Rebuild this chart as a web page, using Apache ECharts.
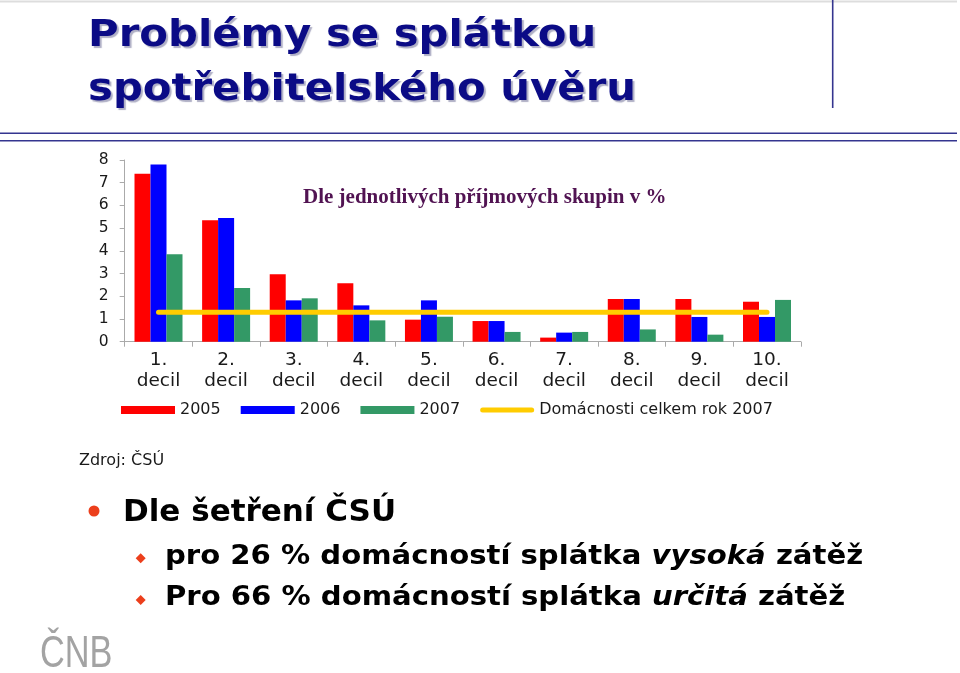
<!DOCTYPE html>
<html>
<head>
<meta charset="utf-8">
<script src="https://cdn.jsdelivr.net/npm/echarts@6/dist/echarts.min.js"></script>
<style>
html,body{margin:0;padding:0;background:#fff;}
#c{width:960px;height:673px;}
</style>
</head>
<body>
<div id="c"></div>
<script>
const categories = ['1.\ndecil','2.\ndecil','3.\ndecil','4.\ndecil','5.\ndecil','6.\ndecil','7.\ndecil','8.\ndecil','9.\ndecil','10.\ndecil'];
const s2005 = [7.4, 5.35, 2.97, 2.57, 0.97, 0.91, 0.18, 1.88, 1.88, 1.76];
const s2006 = [7.8, 5.45, 1.82, 1.6, 1.82, 0.91, 0.4, 1.88, 1.09, 1.09];
const s2007 = [3.85, 2.36, 1.91, 0.94, 1.1, 0.43, 0.43, 0.54, 0.31, 1.84];
const households2007 = [1.3, 1.3, 1.3, 1.3, 1.3, 1.3, 1.3, 1.3, 1.3, 1.3];
const seriesNames = ['2005', '2006', '2007', 'Domácnosti celkem rok 2007'];
const yTicks = [0, 1, 2, 3, 4, 5, 6, 7, 8];

const chart = echarts.init(document.getElementById('c'), null, {renderer: 'canvas'});
const navy = '#0b0b86';
const lineCol = '#34358f';

function txt(x, y, text, font, fill, sx, extra) {
  return {
    type: 'text', x: x, y: y, scaleX: sx || 1, silent: true,
    style: Object.assign({x: 0, y: 0, text: text, font: font, fill: fill, verticalAlign: 'middle', align: 'left'}, extra || {})
  };
}

const option = {
  backgroundColor: '#ffffff',
  animation: false,
  grid: {left: 124.7, right: 159.2, top: 160, bottom: 331.3, containLabel: false},
  legend: {
    left: 121, top: 402, padding: 0, itemWidth: 54, itemHeight: 8, itemGap: 20,
    textStyle: {fontFamily: 'DejaVu Sans', fontSize: 16, color: '#1a1a1a'},
    data: [
      {name: seriesNames[0], icon: 'rect'},
      {name: seriesNames[1], icon: 'rect'},
      {name: seriesNames[2], icon: 'rect'},
      {name: seriesNames[3], icon: 'path://M0,0 M54,8 M2.5,1.5 L51.5,1.5 A2.5,2.5 0 0 1 51.5,6.5 L2.5,6.5 A2.5,2.5 0 0 1 2.5,1.5 Z'}
    ]
  },
  xAxis: {
    type: 'category', data: categories,
    axisLine: {lineStyle: {color: '#aaaaaa', width: 1}},
    axisTick: {show: true, alignWithLabel: false, length: 5, lineStyle: {color: '#aaaaaa'}},
    axisLabel: {fontFamily: 'DejaVu Sans', fontSize: 18.5, color: '#1a1a1a', lineHeight: 21, margin: 8, interval: 0}
  },
  yAxis: {
    type: 'value', min: yTicks[0], max: yTicks[yTicks.length - 1], interval: 1,
    splitLine: {show: false},
    axisLine: {show: true, lineStyle: {color: '#aaaaaa', width: 1}},
    axisTick: {show: true, length: 5, lineStyle: {color: '#aaaaaa'}},
    axisLabel: {fontFamily: 'DejaVu Sans', fontSize: 15.5, color: '#1a1a1a', margin: 16}
  },
  series: [
    {name: seriesNames[0], type: 'bar', data: s2005, barWidth: 16, barGap: '0%', itemStyle: {color: '#ff0000'}},
    {name: seriesNames[1], type: 'bar', data: s2006, barWidth: 16, barGap: '0%', itemStyle: {color: '#0000ff'}},
    {name: seriesNames[2], type: 'bar', data: s2007, barWidth: 16, barGap: '0%', itemStyle: {color: '#339966'}},
    {name: seriesNames[3], type: 'line', data: households2007, symbol: 'none', z: 5,
     lineStyle: {color: '#ffcc00', width: 5, cap: 'round'}, itemStyle: {color: '#ffcc00'}}
  ],
  graphic: [
    {type: 'line', silent: true, shape: {x1: 0, y1: 1.5, x2: 957, y2: 1.5}, style: {stroke: '#dddddd', lineWidth: 2}},
    {type: 'line', silent: true, shape: {x1: 832.7, y1: 0, x2: 832.7, y2: 108}, style: {stroke: lineCol, lineWidth: 1.6}},
    {type: 'line', silent: true, shape: {x1: 0, y1: 133.3, x2: 957, y2: 133.3}, style: {stroke: lineCol, lineWidth: 1.6}},
    {type: 'line', silent: true, shape: {x1: 0, y1: 140.8, x2: 957, y2: 140.8}, style: {stroke: lineCol, lineWidth: 1.6}},
    txt(88, 36.5, 'Problémy se splátkou', 'bold 38px "DejaVu Sans"', navy, 1.1,
        {textShadowColor: 'rgba(110,110,150,0.55)', textShadowOffsetX: 2, textShadowOffsetY: 2, textShadowBlur: 1}),
    txt(88, 90, 'spotřebitelského úvěru', 'bold 38px "DejaVu Sans"', navy, 1.1,
        {textShadowColor: 'rgba(110,110,150,0.55)', textShadowOffsetX: 2, textShadowOffsetY: 2, textShadowBlur: 1}),
    txt(303, 197.5, 'Dle jednotlivých příjmových skupin v %', 'bold 21px "Liberation Serif"', '#511352', 1),
    txt(79, 461, 'Zdroj: ČSÚ', '16px "DejaVu Sans"', '#1a1a1a', 1),
    {type: 'circle', silent: true, shape: {cx: 94, cy: 511, r: 5.5}, style: {fill: '#ec3f1c'}},
    txt(123, 512.5, 'Dle šetření ČSÚ', 'bold 31px "DejaVu Sans"', '#000000', 1),
    {type: 'polygon', silent: true, shape: {points: [[140.7, 553.3], [145.7, 558.3], [140.7, 563.3], [135.7, 558.3]]}, style: {fill: '#ec3f1c'}},
    {type: 'polygon', silent: true, shape: {points: [[140.7, 595], [145.7, 600], [140.7, 605], [135.7, 600]]}, style: {fill: '#ec3f1c'}},
    {type: 'text', x: 165, y: 557, scaleX: 1.12, silent: true, style: {x: 0, y: 0, verticalAlign: 'middle',
      text: '{b|pro 26 % domácností splátka }{i|vysoká}{b| zátěž}',
      rich: {b: {font: 'bold 26px "DejaVu Sans"', fill: '#000'}, i: {font: 'italic bold 26px "DejaVu Sans"', fill: '#000'}}}},
    {type: 'text', x: 165, y: 598, scaleX: 1.12, silent: true, style: {x: 0, y: 0, verticalAlign: 'middle',
      text: '{b|Pro 66 % domácností splátka }{i|určitá}{b| zátěž}',
      rich: {b: {font: 'bold 26px "DejaVu Sans"', fill: '#000'}, i: {font: 'italic bold 26px "DejaVu Sans"', fill: '#000'}}}},
    txt(40, 655, 'ČNB', '44px "Liberation Sans"', '#a3a3a3', 0.78)
  ]
};
chart.setOption(option);
</script>
</body>
</html>
